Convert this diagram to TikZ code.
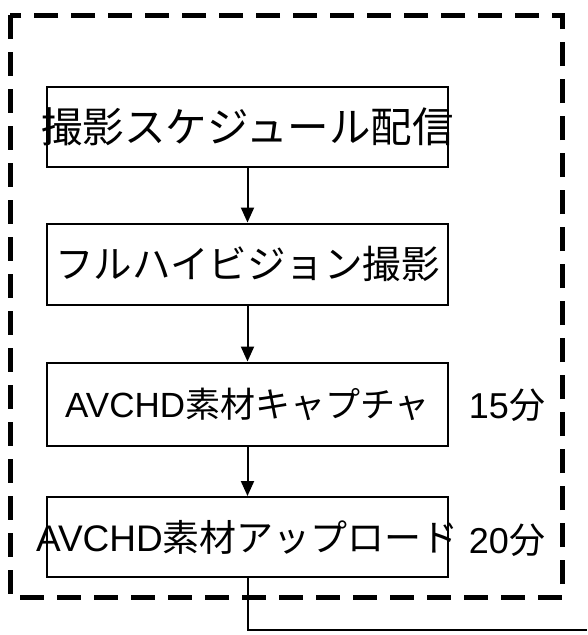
\documentclass[tikz,border=0pt]{standalone}
\usepackage{fontspec}
\setmainfont{Liberation Sans}
\newfontfamily\jp{Noto Sans CJK JP}
\usetikzlibrary{arrows.meta}
\begin{document}
\begin{tikzpicture}[x=1pt,y=-1pt,
  stepbox/.style={draw=black,line width=2pt,minimum width=401pt,inner sep=0pt,align=center},
  flow/.style={line width=2pt,-{Triangle[width=13pt,length=15pt]}},
  lbl/.style={inner sep=0pt}]
\useasboundingbox (0,0) rectangle (587,635);
\draw[line width=5pt,dash pattern=on 24pt off 13pt] (10,15) rectangle (562,597);
\node[stepbox,minimum height=80pt] (b1) at (247.5,127) {\makebox[0pt]{\fontsize{41.5}{44}\selectfont\jp 撮影スケジュール配信}};
\node[stepbox,minimum height=81pt] (b2) at (247.5,264) {\makebox[0pt]{\fontsize{38.5}{42}\selectfont\jp フルハイビジョン撮影}};
\node[stepbox,minimum height=83pt] (b3) at (247.5,404) {\makebox[0pt]{\fontsize{35}{38}\selectfont AVCHD{\jp 素材キャプチャ}}};
\node[stepbox,minimum height=80pt] (b4) at (247.5,537) {\makebox[0pt]{\fontsize{37}{40}\selectfont AVCHD{\jp 素材アップロード}}};
\node[lbl] (t1) at (507,405) {\fontsize{36}{40}\selectfont 15{\jp 分}};
\node[lbl] (t2) at (507,540) {\fontsize{36}{40}\selectfont 20{\jp 分}};
\draw[flow] (b1) -- (b2);
\draw[flow] (b2) -- (b3);
\draw[flow] (b3) -- (b4);
\coordinate (e) at (587,630);
\draw[line width=2pt] (b4.south) |- (e);
\end{tikzpicture}
\end{document}
